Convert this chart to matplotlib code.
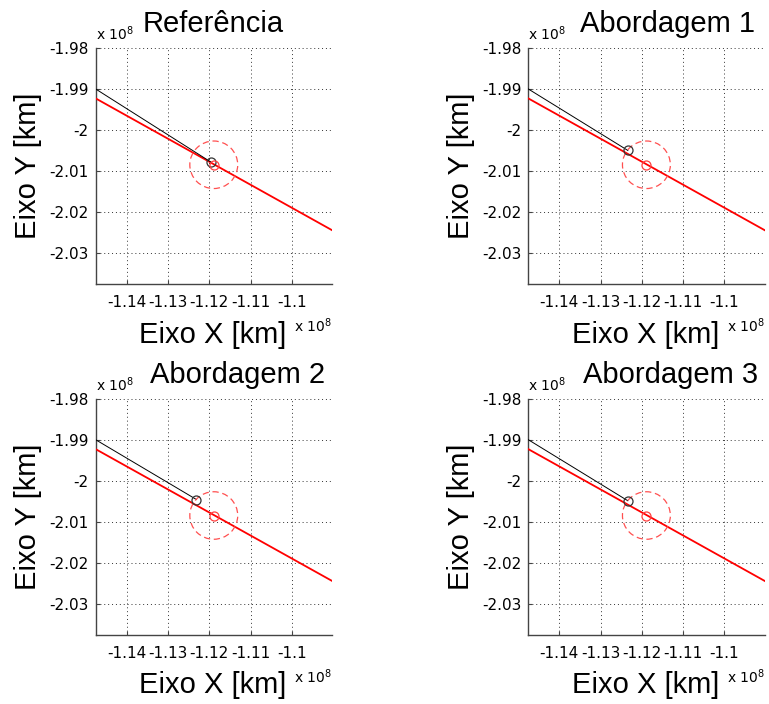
import numpy as np
import matplotlib
matplotlib.use("Agg")
import matplotlib.pyplot as plt
from matplotlib.patches import Circle

# values are in units of 1e8 km (as shown on the axes)
titles = ["Referência", "Abordagem 1", "Abordagem 2", "Abordagem 3"]
title_xpos = [0.496, 0.590, 0.598, 0.600]

# trajectory of the spacecraft (black) : start point and final point per panel
black_start_x = [-1.1475, -1.1475, -1.1475, -1.1475]
black_start_y = [-1.9900, -1.9900, -1.9900, -1.9900]
black_end_x = [-1.1195, -1.1234, -1.1231, -1.1234]
black_end_y = [-2.0079, -2.0050, -2.0046, -2.0049]

# target trajectory (red) and target position
red_x = [-1.1475, -1.0902]
red_y = [-1.9923, -2.0245]
target_x = -1.1189
target_y = -2.0085
target_radius = 0.0058

xticks = [-1.14, -1.13, -1.12, -1.11, -1.10]
xticklabels = ["-1.14", "-1.13", "-1.12", "-1.11", "-1.1"]
yticks = [-1.98, -1.99, -2.00, -2.01, -2.02, -2.03]
yticklabels = ["-1.98", "-1.99", "-2", "-2.01", "-2.02", "-2.03"]
xlim = (-1.1475, -1.0902)
ylim = (-2.0376, -1.98)

plt.rcParams["axes.unicode_minus"] = False
plt.rcParams["font.family"] = ["Liberation Sans", "DejaVu Sans"]

fig = plt.figure(figsize=(7.69, 7.04), dpi=100)

# axes boxes in figure fraction (left, bottom, width, height)
positions = [
    [0.1244, 0.5966, 0.3077, 0.3352],
    [0.6870, 0.5966, 0.3077, 0.3352],
    [0.1244, 0.0984, 0.3077, 0.3352],
    [0.6870, 0.0984, 0.3077, 0.3352],
]

spine_col = "#444444"

for i in range(4):
    ax = fig.add_axes(positions[i])

    ax.plot(red_x, red_y, color="red", lw=1.3, zorder=3)
    ax.plot([black_start_x[i], black_end_x[i]], [black_start_y[i], black_end_y[i]],
            color="black", lw=0.7, zorder=4)
    ax.plot(black_end_x[i], black_end_y[i], "o", mfc="none", mec="#333333",
            ms=6.5, mew=0.9, zorder=5)
    ax.plot(target_x, target_y, "o", mfc="none", mec="#ff4040", ms=6.5, mew=0.9, zorder=5)
    ax.add_patch(Circle((target_x, target_y), target_radius, fill=False,
                        ec="#ff5050", lw=0.9, ls=(0, (5, 3)), zorder=4))

    ax.set_xlim(xlim)
    ax.set_ylim(ylim)
    ax.set_xticks(xticks)
    ax.set_xticklabels(xticklabels, family="DejaVu Sans", fontsize=11)
    ax.set_yticks(yticks)
    ax.set_yticklabels(yticklabels, family="DejaVu Sans", fontsize=11)

    ax.grid(True, color="black", lw=0.7, ls=(0, (1, 3)), alpha=0.8)
    ax.tick_params(direction="in", length=3, width=0.8, color=spine_col)
    ax.tick_params(axis="x", pad=8)
    ax.tick_params(axis="y", pad=5)
    for s in ["top", "right"]:
        ax.spines[s].set_visible(False)
    for s in ["left", "bottom"]:
        ax.spines[s].set_color(spine_col)
        ax.spines[s].set_linewidth(1.0)

    ax.set_xlabel("Eixo X [km]", fontsize=21, va="top")
    ax.xaxis.set_label_coords(0.496, -0.155)
    ax.set_ylabel("Eixo Y [km]", fontsize=21, va="center")
    ax.yaxis.set_label_coords(-0.285, 0.5)

    ax.text(title_xpos[i], 1.068, titles[i], transform=ax.transAxes,
            ha="center", va="baseline", fontsize=21)

    # exponent labels like matlab
    ax.text(0.0, 1.034, r"x 10$^8$", transform=ax.transAxes, ha="left",
            va="baseline", fontsize=10, family="DejaVu Sans")
    ax.text(1.0, -0.205, r"x 10$^8$", transform=ax.transAxes, ha="right",
            va="baseline", fontsize=10, family="DejaVu Sans")

fig.savefig("out.png", dpi=100)
